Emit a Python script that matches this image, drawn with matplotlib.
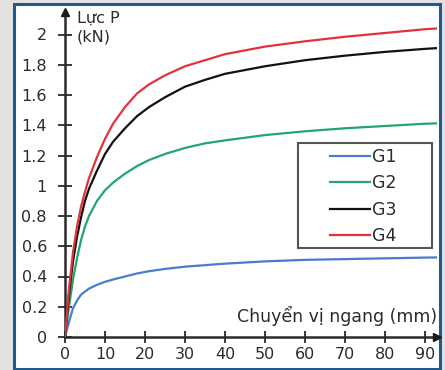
import matplotlib
matplotlib.use("Agg")
import matplotlib.pyplot as plt
from matplotlib.patches import Rectangle

# ---- data ----
x_mm = [0, 1, 2, 3, 4, 5, 6, 8, 10, 12, 15, 18, 21, 25, 30, 35, 40, 50, 60, 70, 80, 90, 96]
g1 = [0, 0.10, 0.19, 0.24, 0.28, 0.30, 0.32, 0.345, 0.365, 0.38, 0.40, 0.42, 0.435, 0.45,
      0.465, 0.475, 0.485, 0.50, 0.51, 0.515, 0.52, 0.525, 0.527]
g2 = [0, 0.20, 0.38, 0.52, 0.64, 0.73, 0.80, 0.90, 0.97, 1.02, 1.08, 1.13, 1.17, 1.21,
      1.25, 1.28, 1.30, 1.335, 1.36, 1.38, 1.395, 1.41, 1.415]
g3 = [0, 0.28, 0.50, 0.66, 0.79, 0.90, 0.98, 1.10, 1.21, 1.29, 1.38, 1.46, 1.52, 1.585,
      1.655, 1.70, 1.74, 1.79, 1.83, 1.86, 1.885, 1.905, 1.915]
g4 = [0, 0.32, 0.56, 0.73, 0.86, 0.96, 1.05, 1.19, 1.31, 1.41, 1.52, 1.61, 1.67, 1.73,
      1.79, 1.83, 1.87, 1.92, 1.955, 1.985, 2.01, 2.035, 2.045]
series_names = ["G1", "G2", "G3", "G4"]
series_colors = ["#4a7bd0", "#22a66e", "#111111", "#e2323c"]
xticks = [0, 10, 20, 30, 40, 50, 60, 70, 80, 90]
yticks = [0, 0.2, 0.4, 0.6, 0.8, 1.0, 1.2, 1.4, 1.6, 1.8, 2.0]
ytick_labels = ["0", "0.2", "0.4", "0.6", "0.8", "1", "1.2", "1.4", "1.6", "1.8", "2"]
xtick_labels = [str(v) for v in xticks]
ylabel = "Lực P\n(kN)"
xlabel = "Chuyển vị ngang (mm)"

W, H = 445, 370
fig = plt.figure(figsize=(W / 100, H / 100), dpi=100)
fig.patch.set_facecolor("#e4e2e1")

def fx(px):
    return px / W

def fy(py):
    return 1 - py / H

# outer blue frame
fig.add_artist(Rectangle((fx(14), fy(369)), fx(440) - fx(14), fy(4) - fy(369),
                         transform=fig.transFigure, facecolor="white",
                         edgecolor="#1f5b8e", lw=2.2, zorder=-10))

ax = fig.add_axes([fx(65), fy(337), fx(437) - fx(65), fy(12) - fy(337)])
ax.set_facecolor("none")
ax.set_xlim(0, 93)
ax.set_ylim(0, (337 - 12) / 151.25)

txtc = "#2b2b2b"
for s in ["top", "right"]:
    ax.spines[s].set_visible(False)
for s in ["left", "bottom"]:
    ax.spines[s].set_color("#2a2a2a")
    ax.spines[s].set_linewidth(1.8)

ax.plot(1, 0, ">", transform=ax.transAxes, clip_on=False, color="#1a1a1a", ms=6, zorder=6)
ax.plot(0, 1, "^", transform=ax.transAxes, clip_on=False, color="#1a1a1a", ms=6, zorder=6)

lines = []
for ys, name, col in zip([g1, g2, g3, g4], series_names, series_colors):
    ln, = ax.plot(x_mm, ys, color=col, lw=1.6, label=name, zorder=3)
    lines.append(ln)

ax.set_xticks(xticks)
ax.set_xticklabels(xtick_labels)
ax.set_yticks(yticks)
ax.set_yticklabels(ytick_labels)
ax.tick_params(axis="y", direction="inout", length=10, width=1.3, color="#2a2a2a",
               labelsize=11.5, labelcolor=txtc, pad=8)
ax.tick_params(axis="x", direction="inout", length=8, width=1.3, color="#2a2a2a",
               labelsize=11.5, labelcolor=txtc, pad=3)

fig.text(fx(77), fy(11), ylabel, ha="left", va="top", fontsize=11.5, color=txtc,
         linespacing=1.25)
fig.text(fx(437), fy(316), xlabel, ha="right", va="center", fontsize=12.5, color=txtc)

# legend frame
fig.add_artist(Rectangle((fx(298), fy(248)), fx(432) - fx(298), fy(143) - fy(248),
                         transform=fig.transFigure, facecolor="white",
                         edgecolor="#555555", lw=1.5, zorder=4))
leg = fig.legend(handles=lines, labels=series_names, loc="upper left",
                 bbox_to_anchor=(fx(330), fy(148)), bbox_transform=fig.transFigure,
                 frameon=False, borderpad=0, borderaxespad=0, handlelength=2.3,
                 handletextpad=0.1, labelspacing=0.48, fontsize=12.5)
for t in leg.get_texts():
    t.set_color(txtc)
leg.set_zorder(5)

fig.savefig("out.png", dpi=100)
